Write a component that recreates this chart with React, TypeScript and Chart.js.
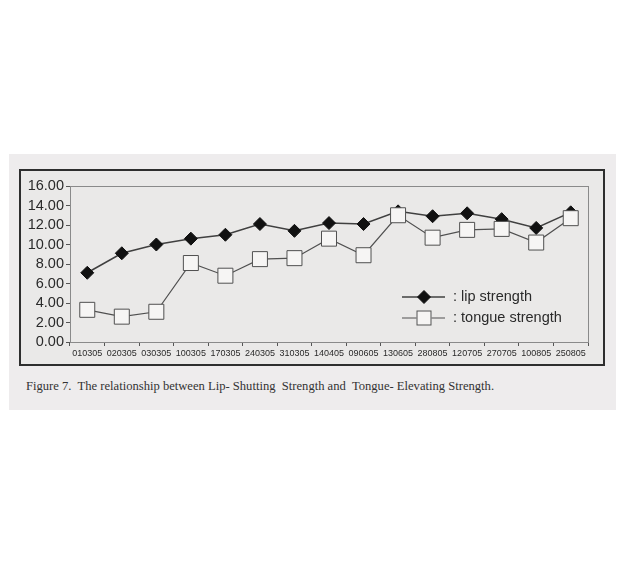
import React, { useEffect, useRef } from "react";
import { Chart, registerables } from "chart.js";

Chart.register(...registerables);

const categories = [
  "010305", "020305", "030305", "100305", "170305", "240305", "310305", "140405",
  "090605", "130605", "280805", "120705", "270705", "100805", "250805",
];
const lipStrength = [7.1, 9.1, 10.0, 10.6, 11.0, 12.1, 11.4, 12.2, 12.1, 13.4, 12.9, 13.2, 12.6, 11.7, 13.3];
const tongueStrength = [3.3, 2.6, 3.1, 8.1, 6.8, 8.5, 8.6, 10.6, 8.9, 13.0, 10.7, 11.5, 11.6, 10.2, 12.7];
const yTicks = [0, 2, 4, 6, 8, 10, 12, 14, 16];
const legendLabels = [": lip strength", ": tongue strength"];
const caption =
  "Figure 7.  The relationship between Lip- Shutting  Strength and  Tongue- Elevating Strength.";

const FONT = "'Liberation Sans', Arial, sans-serif";

const framePlugin = {
  id: "framePlugin",
  beforeDatasetsDraw(chart: any) {
    const { ctx, chartArea } = chart;
    ctx.save();
    ctx.strokeStyle = "#8a8a8a";
    ctx.lineWidth = 1;
    ctx.strokeRect(
      Math.round(chartArea.left) + 0.5,
      Math.round(chartArea.top) + 0.5,
      Math.round(chartArea.right - chartArea.left),
      Math.round(chartArea.bottom - chartArea.top)
    );
    ctx.restore();
  },
  afterDatasetsDraw(chart: any) {
    const { ctx, chartArea } = chart;
    const ds = chart.data.datasets;
    ctx.save();
    const lineX0 = chartArea.right - 186;
    const lineX1 = lineX0 + 43;
    const markX = lineX0 + 22;
    const textX = lineX1 + 8;
    const rows = [chartArea.bottom - 45, chartArea.bottom - 24];
    ds.forEach((d: any, i: number) => {
      const y = rows[i];
      ctx.strokeStyle = d.borderColor;
      ctx.lineWidth = d.borderWidth;
      ctx.beginPath();
      ctx.moveTo(lineX0, y);
      ctx.lineTo(lineX1, y);
      ctx.stroke();
      ctx.fillStyle = d.pointBackgroundColor;
      ctx.strokeStyle = d.pointBorderColor;
      ctx.lineWidth = 1;
      if (d.pointStyle === "rectRot") {
        const r = 6.5;
        ctx.beginPath();
        ctx.moveTo(markX - r, y);
        ctx.lineTo(markX, y - r);
        ctx.lineTo(markX + r, y);
        ctx.lineTo(markX, y + r);
        ctx.closePath();
        ctx.fill();
        ctx.stroke();
      } else {
        const h = 7.5;
        ctx.fillRect(markX - h, y - h, 2 * h, 2 * h);
        ctx.strokeRect(markX - h + 0.5, y - h + 0.5, 2 * h - 1, 2 * h - 1);
      }
      ctx.fillStyle = "#2a2a2a";
      ctx.font = `14.5px ${FONT}`;
      ctx.textBaseline = "middle";
      ctx.textAlign = "left";
      ctx.fillText(legendLabels[i], textX, y);
    });
    ctx.restore();
  },
};

export default function App() {
  const ref = useRef<HTMLCanvasElement | null>(null);

  useEffect(() => {
    if (!ref.current) return;
    const chart = new Chart(ref.current, {
      type: "line",
      data: {
        labels: categories,
        datasets: [
          {
            label: "lip strength",
            data: lipStrength,
            borderColor: "#404040",
            borderWidth: 1.5,
            pointStyle: "rectRot",
            pointRadius: 6.5,
            pointBackgroundColor: "#111",
            pointBorderColor: "#111",
            pointBorderWidth: 1,
            tension: 0,
            order: 1,
          },
          {
            label: "tongue strength",
            data: tongueStrength,
            borderColor: "#505050",
            borderWidth: 1.2,
            pointStyle: "rect",
            pointRadius: 10.6,
            pointBackgroundColor: "#f6f5f4",
            pointBorderColor: "#505050",
            pointBorderWidth: 1,
            tension: 0,
            order: 0,
          },
        ] as any,
      },
      options: {
        animation: false,
        responsive: false,
        maintainAspectRatio: false,
        layout: { padding: { top: 15, right: 15, left: 0, bottom: 0 } },
        plugins: {
          legend: { display: false },
          tooltip: { enabled: false },
        },
        scales: {
          x: {
            type: "category",
            offset: true,
            afterFit(scale: any) {
              scale.height = 22;
            },
            grid: {
              offset: true,
              drawOnChartArea: false,
              drawTicks: true,
              tickLength: 4,
              color: "#555",
            },
            border: { color: "#444", width: 1 },
            ticks: {
              color: "#2a2a2a",
              font: { family: FONT, size: 9 },
              padding: 2,
              maxRotation: 0,
              autoSkip: false,
            },
          },
          y: {
            min: 0,
            max: 16,
            afterFit(scale: any) {
              scale.width = 49;
            },
            afterBuildTicks(scale: any) {
              scale.ticks = yTicks.map((v) => ({ value: v }));
            },
            grid: {
              drawOnChartArea: false,
              drawTicks: true,
              tickLength: 4,
              color: "#555",
            },
            border: { color: "#444", width: 1 },
            ticks: {
              color: "#2a2a2a",
              font: { family: FONT, size: 14.5 },
              padding: 2,
              autoSkip: false,
              callback: (v: any) => Number(v).toFixed(2),
            },
          },
        },
      },
      plugins: [framePlugin],
    });
    return () => chart.destroy();
  }, []);

  return (
    <div style={{ position: "absolute", left: 0, top: 0, width: 624, height: 564, background: "#ffffff" }}>
      <div
        style={{
          position: "absolute",
          left: 9,
          top: 154,
          width: 607,
          height: 256,
          background: "#eeeced",
        }}
      />
      <div
        style={{
          position: "absolute",
          left: 19,
          top: 169,
          width: 582,
          height: 193,
          border: "2px solid #2e2e2e",
          background: "#eae9e8",
        }}
      >
        <canvas ref={ref} width={582} height={193} style={{ display: "block", width: 582, height: 193 }} />
      </div>
      <div
        style={{
          position: "absolute",
          left: 26,
          top: 379,
          fontFamily: "'Liberation Serif', 'Times New Roman', serif",
          fontSize: 12.6,
          color: "#333",
          whiteSpace: "pre",
          lineHeight: "15px",
        }}
      >
        {caption}
      </div>
    </div>
  );
}
